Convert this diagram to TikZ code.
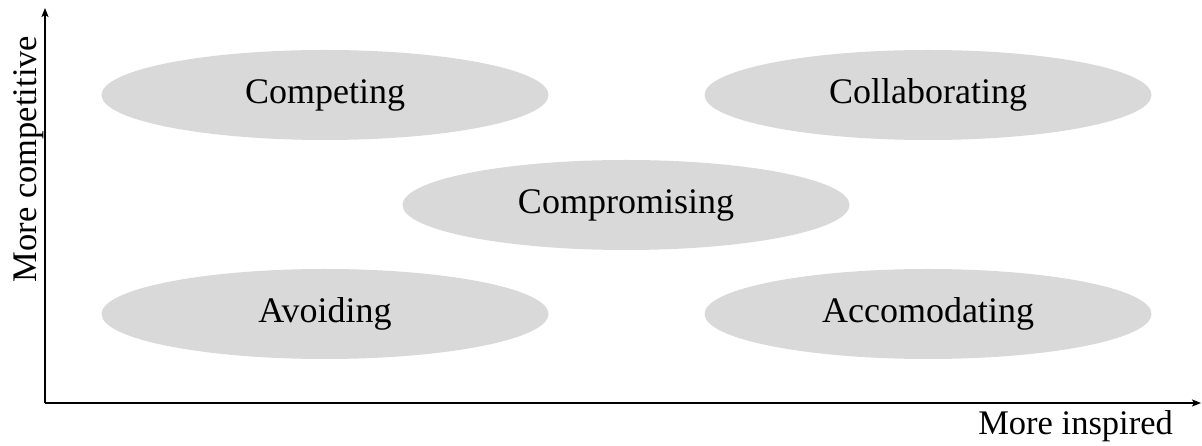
\documentclass[tikz,border=0pt]{standalone}
\usepackage{fontspec}
\setmainfont{Liberation Serif}
\usetikzlibrary{shapes.geometric,arrows.meta}
\begin{document}
\begin{tikzpicture}[x=1pt,y=1pt,
  blob/.style={ellipse, fill=black!15, minimum width=447pt, minimum height=90pt, inner sep=0pt, font=\fontsize{36}{42}\selectfont},
  axislabel/.style={font=\fontsize{34.5}{40}\selectfont, inner sep=0pt},
  axisline/.style={line width=1.2pt, -{Stealth[length=9pt,width=7pt,inset=2pt]}}]
\useasboundingbox (0,0) rectangle (1202,446);
\coordinate (o) at (45,43);
\coordinate (ytop) at (45,438);
\coordinate (xend) at (1201,43);
\draw[axisline] (o) -- (ytop);
\draw[axisline] (o) -- (xend);
\node[blob] (competing) at (325,351) {\raisebox{-2pt}{Competing}};
\node[blob] (collaborating) at (928,351) {\raisebox{-2pt}{Collaborating}};
\node[blob] (compromising) at (626,241) {\raisebox{-2pt}{Compromising}};
\node[blob] (avoiding) at (325,132) {\raisebox{-2pt}{Avoiding}};
\node[blob] (accomodating) at (928,132) {\raisebox{-2pt}{Accomodating}};
\node[axislabel, anchor=base east] (xlabel) at (1173,11) {More inspired};
\node[axislabel, rotate=90, anchor=base] (ylabel) at (36,287) {More competitive};
\end{tikzpicture}
\end{document}
